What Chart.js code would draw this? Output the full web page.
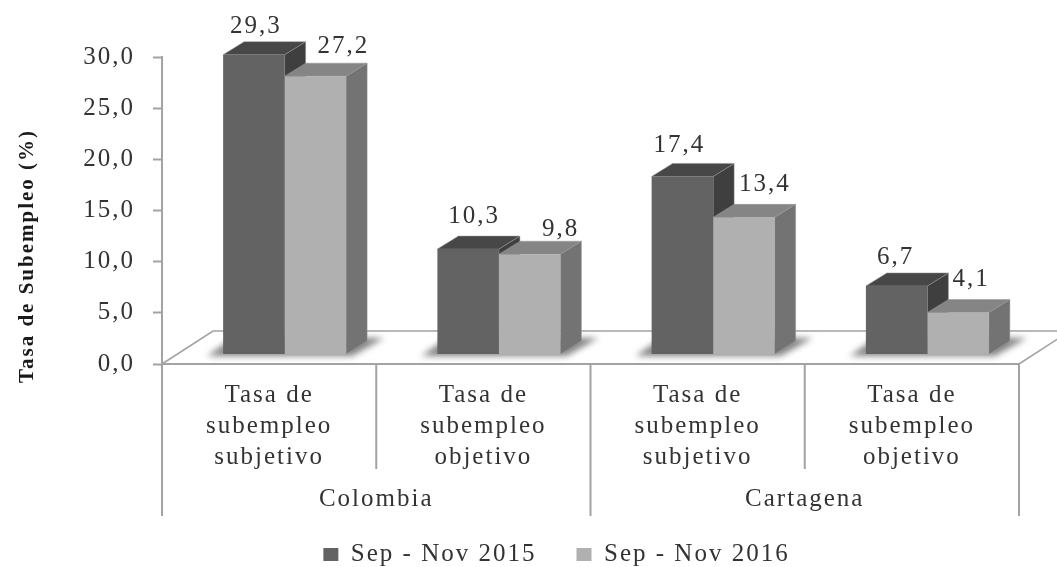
<!DOCTYPE html>
<html><head><meta charset="utf-8">
<style>html,body{margin:0;padding:0;background:#fff}canvas{display:block;filter:blur(.35px)}</style>
<script src="https://cdn.jsdelivr.net/npm/chart.js@4"></script>
</head><body><canvas id="c" width="1057" height="567"></canvas>
<script>
const categories = [["Tasa de","subempleo","subjetivo"],["Tasa de","subempleo","objetivo"],["Tasa de","subempleo","subjetivo"],["Tasa de","subempleo","objetivo"]];
const groups = ["Colombia","Cartagena"];
const seriesNames = ["Sep - Nov 2015","Sep - Nov 2016"];
const values2015 = [29.3,10.3,17.4,6.7];
const values2016 = [27.2,9.8,13.4,4.1];
const yTitle = "Tasa de Subempleo (%)";

// label placement nudges (px), separate from the data
const nudgeX = [[2,6,-3,-1],[28,31,21,13]];
const nudgeY = [[-28,-33,-31,-28],[-30,-25,-33,-33]];

const FONT = '"Liberation Serif", serif';
const FS = 25, LS = '2px', INK = '#333333', AXIS = '#a3a3a3';
const SHIFT_X = 15.5, SHIFT_Y = -9.5, DX = 21, DY = -13;
const faces = [{top:'#474747',side:'#3f3f3f'},{top:'#858585',side:'#737373'}];

const stage = {
  id:'stage',
  beforeLayout(c){ c.ctx.letterSpacing = LS; },
  afterLayout(c){ c.legend.left += 47; c.legend.right += 47; c.legend.top = 502; c.legend.bottom = 609; },
  beforeDraw(c){ c.ctx.letterSpacing = LS; },
  beforeDatasetsDraw(c){
    const g = c.ctx, a = c.chartArea, x = c.scales.x, w = c.width;
    const cw = (x.right-x.left)/categories.length;
    g.save();
    g.strokeStyle = AXIS; g.lineWidth = 1.6;
    g.beginPath();
    g.moveTo(a.left,a.bottom); g.lineTo(a.left+51,a.bottom-33); g.lineTo(w,a.bottom-33);
    g.moveTo(a.right,a.bottom); g.lineTo(a.right+51,a.bottom-33);
    g.stroke();
    g.lineWidth = 2;
    g.beginPath();
    [0,2,4].forEach(i=>{g.moveTo(x.left+i*cw,a.bottom);g.lineTo(x.left+i*cw,516);});
    [1,3].forEach(i=>{g.moveTo(x.left+i*cw,a.bottom);g.lineTo(x.left+i*cw,469);});
    g.stroke();
    g.fillStyle = INK; g.font = FS+'px '+FONT; g.textAlign='center'; g.textBaseline='middle';
    groups.forEach((t,i)=>g.fillText(t,x.left+(2*i+1)*cw,499));
    g.save();
    g.translate(28,256); g.rotate(-Math.PI/2);
    g.font = 'bold 21px '+FONT; g.letterSpacing='2px'; g.fillStyle='#1a1a1a';
    g.fillText(yTitle,0,0);
    g.restore();
    const m0 = c.getDatasetMeta(0).data, m1 = c.getDatasetMeta(1).data;
    m0.forEach((b,j)=>{
      const L = b.x-b.width/2+SHIFT_X, R = m1[j].x+m1[j].width/2+SHIFT_X, B = b.base+SHIFT_Y;
      g.save(); g.filter='blur(3px)'; g.fillStyle='rgba(90,90,90,.75)';
      g.beginPath(); g.moveTo(L-16,B+2); g.lineTo(R+6,B+2); g.lineTo(R+38,B-16); g.lineTo(L+10,B-16); g.closePath(); g.fill();
      g.restore();
    });
    g.lineWidth = 1; g.strokeStyle='rgba(150,150,150,.5)';
    [m0,m1].forEach((meta,d)=>meta.forEach(b=>{
      const L=b.x-b.width/2+SHIFT_X, R=b.x+b.width/2+SHIFT_X, T=b.y+SHIFT_Y, B=b.base+SHIFT_Y;
      g.fillStyle=faces[d].side;
      g.beginPath(); g.moveTo(R,T); g.lineTo(R+DX,T+DY); g.lineTo(R+DX,B+DY); g.lineTo(R,B); g.closePath(); g.fill(); g.stroke();
      g.fillStyle=faces[d].top;
      g.beginPath(); g.moveTo(L,T); g.lineTo(L+DX,T+DY); g.lineTo(R+DX,T+DY); g.lineTo(R,T); g.closePath(); g.fill(); g.stroke();
    }));
    g.restore();
    g.save(); g.translate(SHIFT_X,SHIFT_Y);
  },
  afterDatasetsDraw(c){
    const g = c.ctx; g.restore();
    g.save();
    g.fillStyle=INK; g.font=FS+'px '+FONT; g.textAlign='center'; g.textBaseline='middle';
    c.data.datasets.forEach((ds,d)=>c.getDatasetMeta(d).data.forEach((b,j)=>{
      g.fillText(ds.data[j].toFixed(1).replace('.',','), b.x+SHIFT_X+nudgeX[d][j], b.y+SHIFT_Y+nudgeY[d][j]);
    }));
    g.restore();
  }
};

new Chart(document.getElementById('c'),{
  type:'bar',
  plugins:[stage],
  data:{labels:categories,datasets:[
    {label:seriesNames[0],data:values2015,backgroundColor:'#636363',borderWidth:0,clip:false},
    {label:seriesNames[1],data:values2016,backgroundColor:'#b0b0b0',borderWidth:0,clip:false}
  ]},
  options:{
    responsive:false,animation:false,devicePixelRatio:1,
    layout:{autoPadding:false,padding:{top:57,right:38,left:0,bottom:0}},
    datasets:{bar:{categoryPercentage:.574,barPercentage:1}},
    scales:{
      x:{
        afterFit(s){s.height=128;},
        grid:{display:false},
        border:{color:AXIS,width:2},
        ticks:{autoSkip:false,maxRotation:0,minRotation:0,color:INK,padding:8,font:{family:FONT,size:FS,lineHeight:31/FS}}
      },
      y:{
        min:0,max:30,
        afterFit(s){s.width=162;},
        grid:{drawOnChartArea:false,tickLength:9,tickColor:AXIS,tickWidth:2},
        border:{color:AXIS,width:2},
        ticks:{stepSize:5,color:INK,padding:18,font:{family:FONT,size:FS},callback:v=>v.toFixed(1).replace('.',',')}
      }
    },
    plugins:{
      tooltip:{enabled:false},
      legend:{position:'bottom',labels:{color:INK,boxWidth:15,boxHeight:13,padding:40,font:{family:FONT,size:FS}}}
    }
  }
});
</script></body></html>
